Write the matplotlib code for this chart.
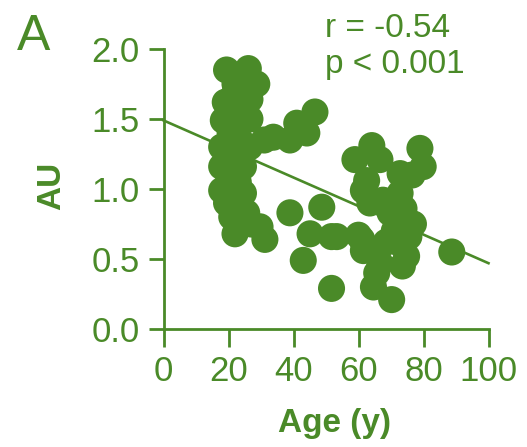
import matplotlib
matplotlib.use("Agg")
import matplotlib.pyplot as plt

plt.rcParams['font.family'] = ['Liberation Sans', 'DejaVu Sans']

verde = '#4a8a28'

# edades (x) y valores AU (y)
age = [19.4, 26.1, 28.7, 21.4, 26.6, 18.4, 26.6, 17.9, 23.5, 17.9, 24.6, 17.9,
       24.6, 19.4, 25.6, 22.0, 31.2, 29.7, 21.0, 22.0, 20.5,
       22.5, 24.0, 20.0, 23.0, 21.0, 26.5, 19.0, 27.0,
       33.8, 38.9, 41.0, 46.6, 44.1, 31.0,
       38.9, 48.7, 45.1, 51.7, 43.0, 51.7, 53.3, 61.0, 61.5, 60.0,
       64.1, 58.9, 78.9, 79.9, 72.8, 62.5, 63.5, 72.8, 69.7, 76.9, 72.8, 74.8,
       65.6, 64.6, 70.2, 88.7, 66.6, 66.6, 61.5, 76.5, 71.0, 73.5,
       68.5, 75.5, 67.5, 74.0]
au = [1.85, 1.86, 1.75, 1.66, 1.64, 1.49, 1.50, 1.30, 1.35, 1.16, 1.16, 0.99,
      0.97, 0.90, 0.83, 0.68, 0.64, 0.73, 1.20, 1.75, 1.40,
      1.55, 1.25, 1.05, 1.05, 0.80, 1.30, 1.62, 0.75,
      1.37, 1.35, 1.47, 1.55, 1.40, 1.35,
      0.83, 0.87, 0.68, 0.66, 0.49, 0.29, 0.66, 0.64, 0.56, 0.67,
      1.31, 1.21, 1.29, 1.16, 1.11, 1.06, 0.90, 0.97, 0.83, 0.75, 0.61, 0.52,
      0.40, 0.30, 0.21, 0.55, 0.47, 1.21, 0.99, 1.10, 0.70, 0.45,
      0.62, 0.66, 0.92, 0.86]

# recta de regresion
fit_x = [0, 100]
fit_y = [1.49, 0.47]

W, H = 527, 447
fig = plt.figure(figsize=(W / 100, H / 100), dpi=100)
ax = fig.add_axes([163.5 / W, 1 - 329 / H, 325 / W, 280 / H])

ax.scatter(age, au, s=380, color=verde, edgecolors='none', clip_on=False, zorder=2)
ax.plot(fit_x, fit_y, color=verde, lw=1.9, clip_on=False, zorder=3)

ax.set_xlim(0, 100)
ax.set_ylim(0, 2.0)
ax.set_xticks([0, 20, 40, 60, 80, 100])
ax.set_yticks([0.0, 0.5, 1.0, 1.5, 2.0])
ax.set_yticklabels(['0.0', '0.5', '1.0', '1.5', '2.0'])

for lado in ['top', 'right']:
    ax.spines[lado].set_visible(False)
for lado in ['left', 'bottom']:
    ax.spines[lado].set_color(verde)
    ax.spines[lado].set_linewidth(2.0)

ax.tick_params(axis='both', colors=verde, labelcolor=verde, labelsize=25,
               width=2.0, direction='out')
ax.tick_params(axis='y', length=11, pad=6)
ax.tick_params(axis='x', length=13, pad=6)

fig.text(334.5 / W, 1 - 432 / H, 'Age (y)', color=verde, fontsize=24,
         fontweight='bold', ha='center', va='baseline')
fig.text(60 / W, 1 - 186 / H, 'AU', color=verde, fontsize=24, fontweight='bold',
         rotation=90, rotation_mode='anchor', ha='center', va='baseline')

fig.text(17 / W, 1 - 50 / H, 'A', color=verde, fontsize=36, ha='left', va='baseline')
fig.text(325 / W, 1 - 37 / H, 'r = -0.54', color=verde, fontsize=24,
         ha='left', va='baseline')
fig.text(325 / W, 1 - 73 / H, 'p < 0.001', color=verde, fontsize=24,
         ha='left', va='baseline')

fig.savefig('out.png', dpi=100, facecolor='white')
